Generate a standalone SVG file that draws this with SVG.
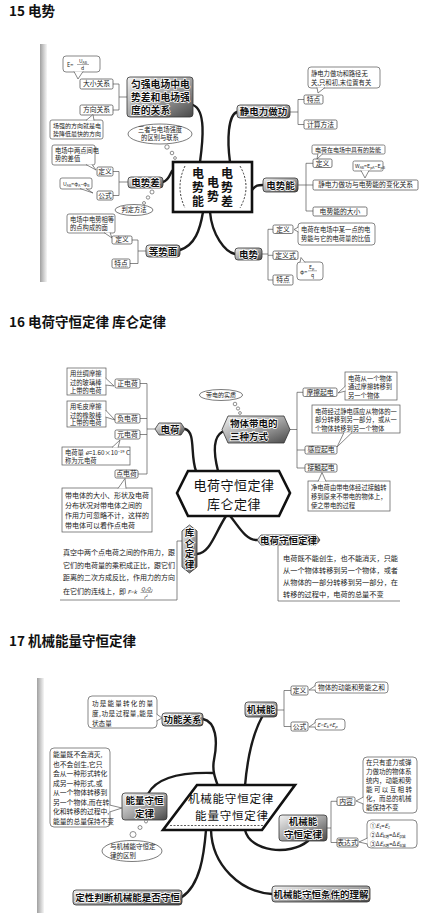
<svg xmlns="http://www.w3.org/2000/svg" width="432" height="913" viewBox="0 0 432 913">
<defs>
<linearGradient id="gd" x1="0" y1="0" x2="1" y2="1"><stop offset="0" stop-color="#f2f2f2"/><stop offset="0.5" stop-color="#a5a5a5"/><stop offset="1" stop-color="#484848"/></linearGradient>
<linearGradient id="gs" x1="0" x2="1"><stop offset="0" stop-color="#a0a0a0"/><stop offset="1" stop-color="#f6f6f6"/></linearGradient>
</defs>
<style>
text{font-family:"Noto Sans CJK SC","Noto Sans",sans-serif;}
.ttl{font-size:13.5px;font-weight:700;fill:#111}
.dk{fill:url(#gd);stroke:#333;stroke-width:0.8}
.nt{font-size:9.5px;font-weight:700;fill:#111;stroke:#fff;stroke-width:1.5px;paint-order:stroke;text-anchor:middle}
.bx{fill:#fff;stroke:#444;stroke-width:0.7}
.bt{font-size:6.8px;fill:#222;text-anchor:middle}
.co{fill:#fff;stroke:#555;stroke-width:0.7}
.ct{font-size:6.3px;fill:#222}
.cn{fill:none;stroke:#1a1a1a;stroke-width:2.4;stroke-linecap:round}
.br{fill:none;stroke:#555;stroke-width:0.7}
.cen{fill:#fff;stroke:#111;stroke-width:2.6}
.cent{font-size:12.5px;fill:#111;text-anchor:middle}
.vt{writing-mode:vertical-rl;text-anchor:middle}
.strip{fill:url(#gs)}
</style>
<rect width="432" height="913" fill="#fff"/>

<!-- ========== 15 ========== -->
<text class="ttl" x="9" y="16">15 电势</text>
<rect class="strip" x="40" y="44" width="7" height="238"/>

<g id="conn15">
<path class="cn" d="M193,105 C206,110 203,140 200,162"/>
<path class="cn" d="M237,112 C228,115 227,140 230,162"/>
<path class="cn" d="M252,190 C256,185 258,185 263,185"/>
<path class="cn" d="M210,212 C212,235 225,252 235,254"/>
<path class="cn" d="M163,182 C170,180 170,172 173,170"/>
<path class="cn" d="M180,250 C195,245 200,230 203,212"/>
<path class="br" d="M127,97 H119 M113,84 H119 V110 H113"/>
<path class="br" d="M290,112 H298 M304,99.5 H298 V124.5 H304"/>
<path class="br" d="M298,185 H306 M313,163.3 H306 V211 H313 M306,185 H313"/>
<path class="br" d="M262,254 H268 M273,229.3 H268 V280 H273 M268,255.3 H273"/>
<path class="br" d="M128,182 H119 M113,171.5 H119 V195.5 H113"/>
<path class="br" d="M146,251 H138 M132,240 H138 V263.5 H130"/>
</g>

<g id="center15">
<rect class="cen" x="173" y="162" width="79" height="50"/>
<path d="M185,166 Q175,187 185,208 M240,166 Q252,187 240,208" fill="none" stroke="#222" stroke-width="0.9" stroke-dasharray="2,1.6"/>
<g style="font-size:12px;font-weight:700;fill:#111;letter-spacing:2px">
<text class="vt" x="198" y="188">电势能</text>
<text class="vt" x="213" y="190">电势</text>
<text class="vt" x="227" y="188">电势差</text>
</g>
</g>

<g id="n-yq">
<rect class="dk" x="127" y="77" width="66" height="40" rx="3"/>
<text class="nt" style="text-anchor:start;font-size:9.8px" x="131" y="88">匀强电场中电</text>
<text class="nt" style="text-anchor:start;font-size:9.8px" x="131" y="101">势差和电场强</text>
<text class="nt" style="text-anchor:start;font-size:9.8px" x="131" y="114">度的关系</text>
</g>
<g id="n-dxgx"><rect class="bx" x="80" y="79" width="33" height="10" rx="1.5"/><text class="bt" x="96.5" y="86.4">大小关系</text></g>
<g id="n-fxgx"><rect class="bx" x="80" y="105" width="33" height="10" rx="1.5"/><text class="bt" x="96.5" y="112.4">方向关系</text></g>
<g id="c-eud">
<rect class="co" x="63" y="56" width="37" height="16" rx="3"/>
<path class="co" d="M74,71.5 L78,79 L83,71.5"/>
<text class="ct" x="67" y="66.5" style="font-size:5.5px">E=</text>
<text class="ct" x="79" y="63" style="font-size:5px">U<tspan style="font-size:3.5px" dy="1">AB</tspan></text>
<line x1="77" y1="64.5" x2="89" y2="64.5" stroke="#333" stroke-width="0.4"/>
<text class="ct" x="81" y="70" style="font-size:5px">d</text>
</g>
<g id="c-fx">
<rect class="co" x="50" y="120" width="53" height="19" rx="2"/>
<path class="co" d="M86,120.5 L93,114.5 L94,120.5"/>
<text class="ct" x="53" y="128" style="font-size:6px">场强的方向就是电</text>
<text class="ct" x="53" y="136" style="font-size:6px">势降低最快的方向</text>
</g>
<g id="t-sz">
<ellipse cx="160" cy="134" rx="32" ry="10" fill="#fff" stroke="#444" stroke-width="0.7"/>
<text class="ct" x="160" y="132" text-anchor="middle">三者与电场强度</text>
<text class="ct" x="160" y="140" text-anchor="middle">的区别与联系</text>
<circle cx="167" cy="147" r="2.2" fill="#fff" stroke="#444" stroke-width="0.6"/>
<circle cx="172" cy="153" r="1.8" fill="#fff" stroke="#444" stroke-width="0.6"/>
<circle cx="175" cy="158" r="1.4" fill="#fff" stroke="#444" stroke-width="0.6"/>
</g>

<g id="n-jdl">
<rect class="dk" x="237" y="105" width="53" height="13" rx="3"/>
<text class="nt" x="263.5" y="115">静电力做功</text>
</g>
<g id="c-jdl">
<rect class="co" x="308" y="67" width="72" height="21" rx="3"/>
<path class="co" d="M317,87.5 L318,93 L325,87.5"/>
<text class="ct" x="311" y="75.5">静电力做功和路径无</text>
<text class="ct" x="311" y="84.5">关,只和初,末位置有关</text>
</g>
<g id="n-td1"><rect class="bx" x="304" y="95" width="19" height="9" rx="1.5"/><text class="bt" x="313.5" y="101.9">特点</text></g>
<g id="n-jsff"><rect class="bx" x="304" y="120" width="33" height="9" rx="1.5"/><text class="bt" x="320.5" y="126.9">计算方法</text></g>

<g id="n-dsn">
<rect class="dk" x="263" y="178" width="35" height="14" rx="3"/>
<text class="nt" x="280.5" y="188.5">电势能</text>
</g>
<g id="c-dsn1">
<rect class="co" x="312" y="145" width="73" height="9" rx="1.5"/>
<path class="co" d="M318,153.5 L317,159 L323,153.5"/>
<text class="ct" x="315" y="151.8" style="font-size:6px">电荷在电场中具有的势能</text>
</g>
<g id="n-dy1"><rect class="bx" x="313" y="159" width="19" height="8.5" rx="1.5"/><text class="bt" x="322.5" y="165.6">定义</text></g>
<g id="c-wab">
<rect class="co" x="353" y="161" width="30" height="10" rx="1.5"/>
<path class="co" d="M361,170.5 L365,178 L369,170.5"/>
<text class="ct" x="355" y="168" style="font-size:5.3px">W<tspan style="font-size:3.5px" dy="1">AB</tspan><tspan dy="-1">=E</tspan><tspan style="font-size:3.5px" dy="1">pA</tspan><tspan dy="-1">−E</tspan><tspan style="font-size:3.5px" dy="1">pB</tspan></text>
</g>
<g id="n-bh"><rect class="bx" x="313" y="180" width="105" height="10" rx="1.5"/><text class="bt" x="365.5" y="187.4">静电力做功与电势能的变化关系</text></g>
<g id="n-dx"><rect class="bx" x="313" y="207" width="54" height="9" rx="1.5"/><text class="bt" x="340" y="213.9">电势能的大小</text></g>

<g id="n-ds">
<rect class="dk" x="235" y="248" width="27" height="12" rx="3"/>
<text class="nt" x="248.5" y="257.5">电势</text>
</g>
<g id="n-dy2"><rect class="bx" x="273" y="225" width="20" height="8.5" rx="1.5"/><text class="bt" x="283" y="231.6">定义</text></g>
<g id="c-ds1">
<rect class="co" x="298" y="223" width="77" height="22" rx="3"/>
<path class="co" d="M298.5,227 L294,229.5 L298.5,232"/>
<text class="ct" x="301" y="232">电荷在电场中某一点的电</text>
<text class="ct" x="301" y="241">势能与它的电荷量的比值</text>
</g>
<g id="n-dys"><rect class="bx" x="273" y="251" width="25" height="8.5" rx="1.5"/><text class="bt" x="285.5" y="257.6">定义式</text></g>
<g id="c-phi">
<rect class="co" x="297" y="262" width="26" height="18" rx="3"/>
<path class="co" d="M300,262.5 L301,257.5 L305,262.5"/>
<text class="ct" x="300" y="273.5" style="font-size:5.5px">φ=</text>
<text class="ct" x="309" y="269" style="font-size:5px">E<tspan style="font-size:3.5px" dy="1">p</tspan></text>
<line x1="308" y1="270.8" x2="317" y2="270.8" stroke="#333" stroke-width="0.4"/>
<text class="ct" x="311" y="277" style="font-size:5px">q</text>
</g>
<g id="n-td2"><rect class="bx" x="273" y="275" width="20" height="10" rx="1.5"/><text class="bt" x="283" y="282.4">特点</text></g>

<g id="n-dsc">
<rect class="dk" x="128" y="177" width="35" height="11" rx="3"/>
<text class="nt" x="145.5" y="186">电势差</text>
</g>
<g id="c-dsc1">
<rect class="co" x="52" y="145" width="43" height="20" rx="2"/>
<path class="co" d="M86,164.5 L96,170 L92,164.5"/>
<text class="ct" x="55" y="153">电场中两点间电</text>
<text class="ct" x="55" y="161">势的差值</text>
</g>
<g id="n-dy3"><rect class="bx" x="97" y="167" width="16" height="9" rx="1.5"/><text class="bt" x="105" y="173.9">定义</text></g>
<g id="c-uab">
<rect class="co" x="60" y="178" width="32" height="11" rx="2"/>
<path class="co" d="M80,188.5 L93,193 L86,188.5"/>
<text class="ct" x="63" y="185.5" style="font-size:5.3px">U<tspan style="font-size:3.5px" dy="1">AB</tspan><tspan dy="-1">=φ</tspan><tspan style="font-size:3.5px" dy="1">A</tspan><tspan dy="-1">−φ</tspan><tspan style="font-size:3.5px" dy="1">B</tspan></text>
</g>
<g id="n-gs"><rect class="bx" x="97" y="191" width="16" height="9" rx="1.5"/><text class="bt" x="105" y="197.9">公式</text></g>
<g id="t-pd">
<ellipse cx="134" cy="210" rx="19" ry="5.5" fill="#fff" stroke="#444" stroke-width="0.7"/>
<text class="ct" x="134" y="212.3" text-anchor="middle">判定方法</text>
<circle cx="144" cy="203" r="1.5" fill="#fff" stroke="#444" stroke-width="0.6"/>
<circle cx="148" cy="197.5" r="1.7" fill="#fff" stroke="#444" stroke-width="0.6"/>
<circle cx="152" cy="192" r="2" fill="#fff" stroke="#444" stroke-width="0.6"/>
</g>

<g id="n-dsm">
<rect class="dk" x="146" y="245" width="34" height="12" rx="3"/>
<text class="nt" x="163" y="254.5">等势面</text>
</g>
<g id="c-dsm1">
<rect class="co" x="67" y="214" width="48" height="19" rx="2"/>
<path class="co" d="M104,232.5 L112,238 L110,232.5"/>
<text class="ct" x="70" y="222">电场中电势相等</text>
<text class="ct" x="70" y="230">的点构成的面</text>
</g>
<g id="n-dy4"><rect class="bx" x="112" y="236" width="20" height="8" rx="1.5"/><text class="bt" x="122" y="242.4">定义</text></g>
<g id="n-td3"><rect class="bx" x="112" y="259" width="18" height="9" rx="1.5"/><text class="bt" x="121" y="265.9">特点</text></g>

<!-- ========== 16 ========== -->
<text class="ttl" x="9" y="327">16 电荷守恒定律 库仑定律</text>

<g id="conn16">
<path class="cn" d="M185,429 C196,432 190,455 196,471"/>
<path class="cn" d="M222,432 C212,438 214,455 218,471"/>
<path class="cn" d="M197,554 C210,553 214,535 226,516"/>
<path class="cn" d="M230,516 C238,525 245,540 257,540"/>
<path class="br" d="M155,429 H147 M140,383.5 H147 V474 H138 M140,418.5 H147 M140,434.5 H147"/>
<path class="br" d="M290,429.5 H297 M303,392.3 H297 V468 H305 M297,450 H305"/>
<path class="br" d="M182,541 H177 V600 H60"/>
<path class="br" d="M278,545 V601 H400"/>
</g>

<g id="center16">
<polygon class="cen" points="177,493 188,471 279,471 290,493 279,516 188,516"/>
<text class="cent" x="234" y="489.5" style="font-size:13px;letter-spacing:0.5px">电荷守恒定律</text>
<text class="cent" x="234" y="508.5" style="font-size:13px;letter-spacing:0.5px">库仑定律</text>
</g>

<g id="n-dh">
<polygon class="dk" points="155,429 159,423 181,423 185,429 181,435 159,435"/>
<text class="nt" x="170" y="432.5">电荷</text>
</g>
<g id="n-zdh"><rect class="bx" x="115" y="379" width="25" height="9" rx="1.5"/><text class="bt" x="127.5" y="385.9">正电荷</text></g>
<g id="c-zdh">
<rect class="co" x="67" y="368" width="39" height="27"/>
<path class="co" d="M105.5,378 L114,386 L105.5,385"/>
<text class="ct" x="70" y="376">用丝绸摩擦</text>
<text class="ct" x="70" y="384.5">过的玻璃棒</text>
<text class="ct" x="70" y="393">上带的电荷</text>
</g>
<g id="n-fdh"><rect class="bx" x="115" y="414" width="25" height="9" rx="1.5"/><text class="bt" x="127.5" y="420.9">负电荷</text></g>
<g id="c-fdh">
<rect class="co" x="67" y="401" width="39" height="26"/>
<path class="co" d="M105.5,410 L115,420 L105.5,417"/>
<text class="ct" x="70" y="409">用毛皮摩擦</text>
<text class="ct" x="70" y="417.5">过的橡胶棒</text>
<text class="ct" x="70" y="425">上带的电荷</text>
</g>
<g id="n-ydh"><rect class="bx" x="115" y="430" width="25" height="9" rx="1.5"/><text class="bt" x="127.5" y="436.9">元电荷</text></g>
<g id="c-ydh">
<rect class="co" x="62" y="447" width="68" height="18"/>
<path class="co" d="M112,447.5 L120,440 L118,447.5"/>
<text class="ct" x="65" y="455">电荷量 <tspan font-style="italic">e</tspan>=1.60×10<tspan style="font-size:4px" dy="-2">−19</tspan><tspan dy="2"> C</tspan></text>
<text class="ct" x="65" y="463">称为元电荷</text>
</g>
<g id="n-ddh"><rect class="bx" x="115" y="470" width="23" height="8" rx="1.5"/><text class="bt" x="126.5" y="476.4">点电荷</text></g>
<g id="c-ddh">
<rect class="co" x="62" y="488" width="90" height="44"/>
<path class="co" d="M118,488.5 L125,478.5 L126,488.5"/>
<text class="ct" x="65" y="498" style="font-size:7px">带电体的大小、形状及电荷</text>
<text class="ct" x="65" y="508" style="font-size:7px">分布状况对带电体之间的</text>
<text class="ct" x="65" y="518" style="font-size:7px">作用力可忽略不计，这样的</text>
<text class="ct" x="65" y="528" style="font-size:7px">带电体可以看作点电荷</text>
</g>

<g id="n-wt">
<polygon class="dk" points="222,429.5 228,416 284,416 290,429.5 284,443 228,443"/>
<text class="nt" style="text-anchor:start;font-size:9.5px" x="230" y="426.5">物体带电的</text>
<text class="nt" style="text-anchor:start;font-size:9.5px" x="230" y="440">三种方式</text>
</g>
<g id="t-sz16">
<ellipse cx="221" cy="395" rx="21.5" ry="5.5" fill="#fff" stroke="#444" stroke-width="0.7"/>
<text class="ct" x="221" y="397.2" text-anchor="middle" style="font-size:6px">带电的实质</text>
<circle cx="235" cy="404" r="1.8" fill="#fff" stroke="#444" stroke-width="0.6"/>
<circle cx="238" cy="408.5" r="1.6" fill="#fff" stroke="#444" stroke-width="0.6"/>
<circle cx="240" cy="413" r="1.4" fill="#fff" stroke="#444" stroke-width="0.6"/>
</g>
<g id="n-mc"><rect class="bx" x="303" y="388" width="34" height="8.5" rx="1.5"/><text class="bt" x="320" y="394.6">摩擦起电</text></g>
<g id="c-mc">
<rect class="co" x="345" y="372" width="52" height="28"/>
<path class="co" d="M345.5,386 L338,393 L345.5,391"/>
<text class="ct" x="348" y="380.5">电荷从一个物体</text>
<text class="ct" x="348" y="389.3">通过摩擦转移到</text>
<text class="ct" x="348" y="398">另一个物体</text>
</g>
<g id="c-gy">
<rect class="co" x="312" y="405" width="88" height="28"/>
<path class="co" d="M344,432.5 L337,447 L352,432.5"/>
<text class="ct" x="315" y="413.5">电荷经过静电感应从物体的一</text>
<text class="ct" x="315" y="422">部分转移到另一部分，或从一</text>
<text class="ct" x="315" y="430.5">个物体转移到另一个物体</text>
</g>
<g id="n-gy"><rect class="bx" x="305" y="446" width="32" height="8" rx="1.5"/><text class="bt" x="321" y="452.4">感应起电</text></g>
<g id="n-jc"><rect class="bx" x="305" y="464" width="32" height="8" rx="1.5"/><text class="bt" x="321" y="470.4">接触起电</text></g>
<g id="c-jc">
<rect class="co" x="308" y="481" width="82" height="30"/>
<path class="co" d="M318,481.5 L322,472.5 L326,481.5"/>
<text class="ct" x="311" y="490">净电荷由带电体经过接触转</text>
<text class="ct" x="311" y="499">移到原来不带电的物体上，</text>
<text class="ct" x="311" y="508">使之带电的过程</text>
</g>

<g id="n-kl">
<polygon class="dk" points="189.5,525 197,531 197,567 189.5,573 182,567 182,531"/>
<text class="nt vt" x="189.5" y="549" style="letter-spacing:1px">库仑定律</text>
</g>
<g id="tx-kl" style="font-size:7px;fill:#222">
<text x="63" y="555">真空中两个点电荷之间的作用力，跟</text>
<text x="63" y="567.5">它们的电荷量的乘积成正比，跟它们</text>
<text x="63" y="580">距离的二次方成反比，作用力的方向</text>
<text x="63" y="594">在它们的连线上，即 <tspan font-style="italic" style="font-size:5.5px">F=k</tspan></text>
<text x="141" y="590.5" style="font-size:5px;font-style:italic">Q<tspan style="font-size:3.5px" dy="1">1</tspan><tspan dy="-1">Q</tspan><tspan style="font-size:3.5px" dy="1">2</tspan></text>
<line x1="140.5" y1="592.5" x2="152" y2="592.5" stroke="#333" stroke-width="0.4"/>
<text x="144" y="598.5" style="font-size:4.5px;font-style:italic">r<tspan style="font-size:3.2px" dy="-1.5">2</tspan></text>
</g>

<g id="n-dhsh">
<polygon class="dk" points="257,540 261,535 316,535 320,540 316,545 261,545"/>
<text class="nt" x="288.5" y="543.5">电荷守恒定律</text>
</g>
<g id="tx-dhsh" style="font-size:7.2px;fill:#222">
<text x="283" y="561">电荷既不能创生，也不能消灭，只能</text>
<text x="283" y="573">从一个物体转移到另一个物体，或者</text>
<text x="283" y="585">从物体的一部分转移到另一部分，在</text>
<text x="283" y="597">转移的过程中，电荷的总量不变</text>
</g>

<!-- ========== 17 ========== -->
<text class="ttl" x="9" y="646">17 机械能量守恒定律</text>
<rect class="strip" x="37" y="678" width="7" height="235"/>

<g id="conn17">
<path class="cn" d="M203,719 C216,722 218,740 214,760 C212,770 215,778 218,786"/>
<path class="cn" d="M148,794 C155,780 175,772 213,773"/>
<path class="cn" d="M262,717 C255,730 248,750 245,786"/>
<path class="cn" d="M206,830 C204,855 200,885 182,897"/>
<path class="cn" d="M211,830 C212,865 240,892 272,894"/>
<path class="cn" d="M245,830 C250,852 290,856 308,841"/>
<path class="br" d="M277,710 H284 M291,690.5 H284 V726.5 H291"/>
<path class="br" d="M327,828 H331 M337,801.3 H331 V842.5 H337"/>
</g>

<g id="center17">
<polygon class="cen" points="197,785 295,785 262,830 163,830"/>
<line x1="170" y1="825.5" x2="264" y2="825.5" stroke="#333" stroke-width="0.8" stroke-dasharray="2,1.5"/>
<text class="cent" x="231" y="802.5" style="font-size:11.5px;letter-spacing:0.8px">机械能守恒定律</text>
<text class="cent" x="232" y="820" style="font-size:11.5px;letter-spacing:0.8px">能量守恒定律</text>
</g>

<g id="n-gngx">
<rect class="dk" x="162" y="713" width="41" height="13" rx="3"/>
<text class="nt" x="182.5" y="722.8">功能关系</text>
</g>
<g id="c-gngx">
<rect class="co" x="88" y="696" width="69" height="32" rx="4"/>
<path class="co" d="M156.5,714 L162,718 L156.5,721"/>
<text class="ct" x="92" y="706" style="font-size:6.6px" textLength="61" lengthAdjust="spacing">功是能量转化的量</text>
<text class="ct" x="92" y="716" style="font-size:6.6px" textLength="61" lengthAdjust="spacing">度,功是过程量,能是</text>
<text class="ct" x="92" y="725.5" style="font-size:6.6px">状态量</text>
</g>

<g id="n-jxn">
<rect class="dk" x="245" y="702" width="32" height="15" rx="3"/>
<text class="nt" x="261" y="713">机械能</text>
</g>
<g id="n-dy5"><rect class="bx" x="291" y="686" width="17" height="9" rx="1.5"/><text class="bt" x="299.5" y="692.9">定义</text></g>
<g id="c-dy5">
<rect class="co" x="315" y="682" width="73" height="11" rx="3"/>
<path class="co" d="M315.5,685.5 L309,690 L315.5,690"/>
<text class="ct" x="318" y="690" style="font-size:6.7px">物体的动能和势能之和</text>
</g>
<g id="n-gs5"><rect class="bx" x="291" y="722" width="17" height="9" rx="1.5"/><text class="bt" x="299.5" y="728.9">公式</text></g>
<g id="c-gs5">
<rect class="co" x="315" y="719" width="30" height="11" rx="3"/>
<path class="co" d="M315.5,722.5 L309,727 L315.5,727"/>
<text class="ct" x="317" y="727" style="font-size:5.5px;font-style:italic">E=E<tspan style="font-size:3.8px" dy="1">k</tspan><tspan dy="-1">+E</tspan><tspan style="font-size:3.8px" dy="1">p</tspan></text>
</g>

<g id="n-nlsh">
<rect class="dk" x="122" y="793" width="45" height="27" rx="3"/>
<text class="nt" x="144.5" y="803.5">能量守恒</text>
<text class="nt" x="144.5" y="816.5">定律</text>
</g>
<g id="c-nlsh">
<rect class="co" x="50" y="748" width="60" height="79" rx="4"/>
<path class="co" d="M109.5,805 L122,808 L109.5,812"/>
<g style="font-size:6.8px;fill:#222">
<text x="53" y="757">能量既不会消灭,</text>
<text x="53" y="766.5">也不会创生,它只</text>
<text x="53" y="776">会从一种形式转化</text>
<text x="53" y="785.5">成另一种形式,或</text>
<text x="53" y="795">从一个物体转移到</text>
<text x="53" y="804.5">另一个物体,而在转</text>
<text x="53" y="814">化和转移的过程中,</text>
<text x="53" y="823.5">能量的总量保持不变</text>
</g>
</g>
<g id="t-qb">
<ellipse cx="132" cy="851" rx="30" ry="10.5" fill="#fff" stroke="#444" stroke-width="0.7"/>
<text class="ct" x="110" y="849" style="font-size:6.5px">与机械能守恒定</text>
<text class="ct" x="110" y="858" style="font-size:6.5px">律的区别</text>
<circle cx="146" cy="821.5" r="1.5" fill="#fff" stroke="#444" stroke-width="0.6"/>
<circle cx="140" cy="827.5" r="2" fill="#fff" stroke="#444" stroke-width="0.6"/>
<circle cx="133" cy="834.5" r="3" fill="#fff" stroke="#444" stroke-width="0.6"/>
</g>

<g id="n-dxpd">
<rect class="dk" x="73" y="890" width="109" height="15" rx="3"/>
<text class="nt" x="127.5" y="901.3">定性判断机械能是否守恒</text>
</g>

<g id="n-jxsh">
<rect class="dk" x="279" y="815" width="48" height="26" rx="3"/>
<text class="nt" x="303" y="825">机械能</text>
<text class="nt" x="303" y="838">守恒定律</text>
</g>
<g id="n-nr"><rect class="bx" x="337" y="797" width="18" height="8.5" rx="1.5"/><text class="bt" x="346" y="803.6">内容</text></g>
<g id="c-nr">
<rect class="co" x="363" y="757" width="54" height="56" rx="4"/>
<path class="co" d="M363.5,797 L356,801 L363.5,804"/>
<g style="font-size:6.5px;fill:#222">
<text x="366" y="765">在只有重力或弹</text>
<text x="366" y="774">力做功的物体系</text>
<text x="366" y="783">统内，动能和势</text>
<text x="366" y="792" textLength="46" lengthAdjust="spacing">能可以互相转</text>
<text x="366" y="801">化，而总的机械</text>
<text x="366" y="810">能保持不变</text>
</g>
</g>
<g id="n-bds"><rect class="bx" x="337" y="838" width="21" height="9" rx="1.5"/><text class="bt" x="347.5" y="844.9">表达式</text></g>
<g id="c-bds">
<rect class="co" x="367" y="820" width="50" height="28" rx="4"/>
<path class="co" d="M367.5,838 L359,842 L367.5,844"/>
<g style="font-size:5.8px;fill:#222">
<text x="370" y="828">①<tspan font-style="italic">E</tspan><tspan style="font-size:3.8px" dy="1">1</tspan><tspan dy="-1">=</tspan><tspan font-style="italic">E</tspan><tspan style="font-size:3.8px" dy="1">2</tspan></text>
<text x="370" y="837">②Δ<tspan font-style="italic">E</tspan><tspan style="font-size:3.8px" dy="1">k增</tspan><tspan dy="-1">=Δ</tspan><tspan font-style="italic">E</tspan><tspan style="font-size:3.8px" dy="1">p减</tspan></text>
<text x="370" y="846">③Δ<tspan font-style="italic">E</tspan><tspan style="font-size:3.8px" dy="1">A增</tspan><tspan dy="-1">=Δ</tspan><tspan font-style="italic">E</tspan><tspan style="font-size:3.8px" dy="1">B减</tspan></text>
</g>
</g>

<g id="n-tj">
<rect class="dk" x="272" y="886" width="98" height="16" rx="3"/>
<text class="nt" x="321" y="897.5">机械能守恒条件的理解</text>
</g>
</svg>
